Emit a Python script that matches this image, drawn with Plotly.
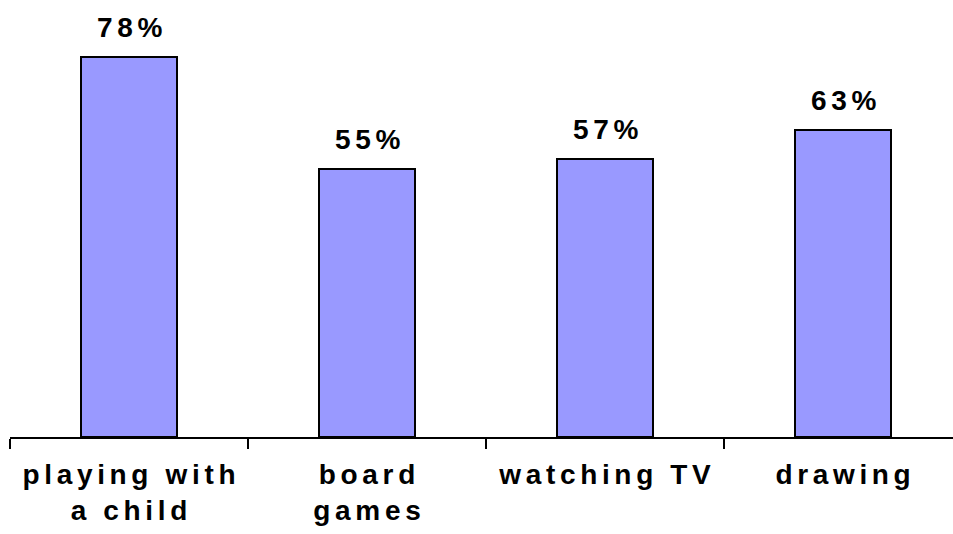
import plotly.graph_objects as go

categories = ["playing with a child", "board games", "watching TV", "drawing"]
tick_lines = [["playing with", "a child"], ["board", "games"], ["watching TV"], ["drawing"]]
values = [78, 55, 57, 63]
value_labels = ["78%", "55%", "57%", "63%"]

SP = "\u2006"


def spaced(s):
    return SP.join(list(s))


ticktext = ["<br>".join(spaced(l) for l in lines) for lines in tick_lines]

FONT = "Arial, Liberation Sans, sans-serif"

fig = go.Figure()
fig.add_trace(go.Bar(
    x=categories,
    y=values,
    width=0.403,
    marker=dict(color="#9999FF", line=dict(color="#000000", width=2)),
    hoverinfo="skip",
))

for c, v, t in zip(categories, values, value_labels):
    fig.add_annotation(
        x=c, y=v, text="<b>" + spaced(t) + "</b>",
        showarrow=False, yanchor="bottom", yshift=12,
        font=dict(family=FONT, size=28, color="#000000"),
    )

fig.update_layout(
    width=953, height=534,
    margin=dict(l=10, r=0, t=0, b=97),
    paper_bgcolor="white", plot_bgcolor="white",
    showlegend=False,
    bargap=0,
    xaxis=dict(
        type="category",
        range=[-0.5, 3.462],
        tickmode="array",
        tickvals=categories,
        ticktext=ticktext,
        tickson="boundaries",
        ticks="outside", ticklen=10, tickwidth=2, tickcolor="#000000",
        ticklabelstandoff=11,
        showline=True, linecolor="#000000", linewidth=2,
        showgrid=False, zeroline=False,
        tickfont=dict(family=FONT, size=28, color="#000000", weight="bold"),
        fixedrange=True,
    ),
    yaxis=dict(
        range=[0, 89.7],
        visible=False,
        showgrid=False, zeroline=False,
        fixedrange=True,
    ),
)

fig.write_html(
    "out.html",
    config={"displayModeBar": False},
    post_script="document.body.style.margin='0';document.body.style.overflow='hidden';",
)
